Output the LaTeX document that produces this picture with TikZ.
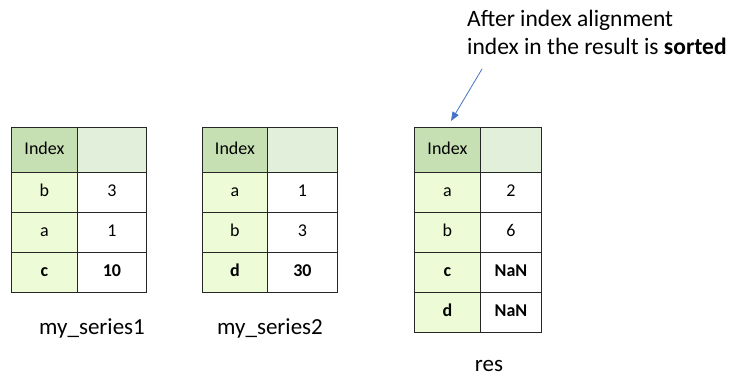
\documentclass[tikz,border=0pt]{standalone}
\usepackage{fontspec}
\setmainfont{Carlito}
\usetikzlibrary{arrows.meta}
\definecolor{hdrIdx}{HTML}{C6E0B4}
\definecolor{hdrVal}{HTML}{E2EFDA}
\definecolor{idxCell}{HTML}{EDFCD6}
\definecolor{arrowBlue}{HTML}{4472C4}
\tikzset{
  cell/.style={draw=black!85, line width=0.9pt, inner sep=0pt, anchor=north west,
    font=\fontsize{18}{20}\selectfont, text height=12pt, text depth=3pt},
  hidx/.style={cell, fill=hdrIdx, minimum height=45pt},
  hval/.style={cell, fill=hdrVal, minimum height=45pt},
  ridx/.style={cell, fill=idxCell, minimum height=40pt},
  rval/.style={cell, fill=white, minimum height=40pt},
  caption/.style={font=\fontsize{23}{28}\selectfont, anchor=base, inner sep=0pt},
}
\begin{document}
\begin{tikzpicture}[x=1pt,y=-1pt]
\useasboundingbox (0,0) rectangle (731,377);
% table 1
\node[hidx, minimum width=66pt] (a0i) at (11,127) {Index};
\node[hval, minimum width=69pt] (a0v) at (77,127) {};
\node[ridx, minimum width=66pt] (a1i) at (11,172) {b};
\node[rval, minimum width=69pt] (a1v) at (77,172) {3};
\node[ridx, minimum width=66pt] (a2i) at (11,212) {a};
\node[rval, minimum width=69pt] (a2v) at (77,212) {1};
\node[ridx, minimum width=66pt] (a3i) at (11,252) {\bfseries c};
\node[rval, minimum width=69pt] (a3v) at (77,252) {\bfseries 10};
\node[caption] (la) at (92,334) {my\_series1};
% table 2
\node[hidx, minimum width=65pt] (b0i) at (202,127) {Index};
\node[hval, minimum width=70pt] (b0v) at (267,127) {};
\node[ridx, minimum width=65pt] (b1i) at (202,172) {a};
\node[rval, minimum width=70pt] (b1v) at (267,172) {1};
\node[ridx, minimum width=65pt] (b2i) at (202,212) {b};
\node[rval, minimum width=70pt] (b2v) at (267,212) {3};
\node[ridx, minimum width=65pt] (b3i) at (202,252) {\bfseries d};
\node[rval, minimum width=70pt] (b3v) at (267,252) {\bfseries 30};
\node[caption] (lb) at (270,334) {my\_series2};
% table 3
\node[hidx, minimum width=66pt] (c0i) at (414,127) {Index};
\node[hval, minimum width=61pt] (c0v) at (480,127) {};
\node[ridx, minimum width=66pt] (c1i) at (414,172) {a};
\node[rval, minimum width=61pt] (c1v) at (480,172) {2};
\node[ridx, minimum width=66pt] (c2i) at (414,212) {b};
\node[rval, minimum width=61pt] (c2v) at (480,212) {6};
\node[ridx, minimum width=66pt] (c3i) at (414,252) {\bfseries c};
\node[rval, minimum width=61pt] (c3v) at (480,252) {\bfseries NaN};
\node[ridx, minimum width=66pt] (c4i) at (414,292) {\bfseries d};
\node[rval, minimum width=61pt] (c4v) at (480,292) {\bfseries NaN};
\node[caption] (lc) at (489,371) {res};
% annotation
\node[font=\fontsize{23.5}{28}\selectfont, align=left, anchor=base west, inner sep=0pt] (note) at (467,55)
  {After index alignment\\index in the result is \textbf{sorted}};
\coordinate (astart) at (482,69);
\draw[arrowBlue, line width=0.8pt, -{Triangle[length=9pt,width=7pt]}, shorten >=7pt] (astart) -- (c0i.north);
\end{tikzpicture}
\end{document}
